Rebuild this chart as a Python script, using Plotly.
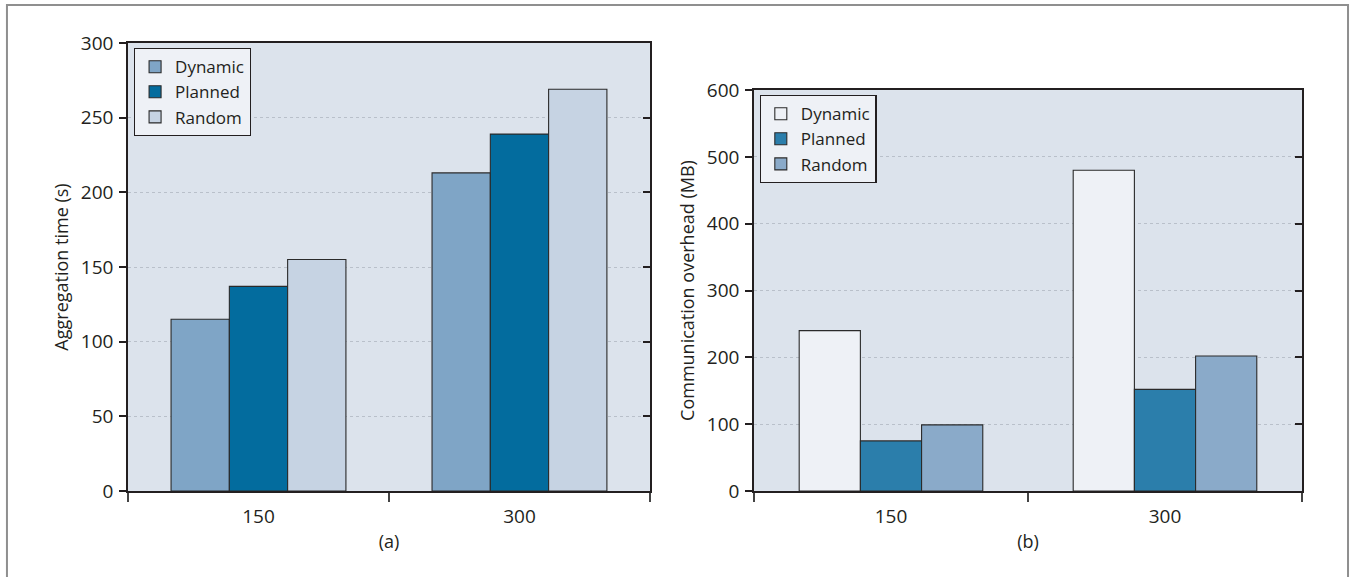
import plotly.graph_objects as go

categories = ["150", "300"]
series = ["Dynamic", "Planned", "Random"]
agg_dynamic = [115, 213]
agg_planned = [137, 239]
agg_random = [155, 269]
comm_dynamic = [240, 480]
comm_planned = [75, 152]
comm_random = [99, 202]

colors_a = ["#7fa5c6", "#036c9e", "#c6d3e3"]
colors_b = ["#eef1f6", "#2b7eab", "#8aaac9"]

TXT = "#231f20"
FONT = "Open Sans"
FS = 18
FS_TICK = 19
FS_LEG = 17

fig = go.Figure()
for name, vals, col in zip(series, [agg_dynamic, agg_planned, agg_random], colors_a):
    fig.add_trace(go.Bar(x=categories, y=vals, name=name, marker_color=col,
                         marker_line=dict(color="#2a2a2a", width=1.1),
                         xaxis="x", yaxis="y", legend="legend"))
for name, vals, col in zip(series, [comm_dynamic, comm_planned, comm_random], colors_b):
    fig.add_trace(go.Bar(x=categories, y=vals, name=name, marker_color=col,
                         marker_line=dict(color="#2a2a2a", width=1.1),
                         xaxis="x2", yaxis="y2", legend="legend2"))

axis_common = dict(showline=True, linecolor=TXT, linewidth=1.5, mirror=True,
                   tickfont=dict(family=FONT, size=FS_TICK, color=TXT))

xcommon = dict(axis_common, type="category", tickson="boundaries", ticks="outside",
               ticklen=9, tickcolor="#444", tickwidth=1.5, showgrid=False, range=[-0.5, 1.5],
               ticklabelstandoff=7)
ycommon = dict(axis_common, ticks="outside", ticklen=7, tickcolor=TXT, tickwidth=1.5,
               showgrid=True, gridcolor="#b9c0ca", griddash="dot", gridwidth=1, zeroline=False,
               ticklabelstandoff=2)

title_font = dict(family=FONT, size=FS, color=TXT)

fig.update_layout(
    width=1356, height=577,
    margin=dict(l=128, r=54, t=43, b=86),
    paper_bgcolor="white",
    plot_bgcolor="#dce3ec",
    barmode="group", bargap=0.33, bargroupgap=0,
    font=dict(family=FONT, color=TXT),
    xaxis=dict(xcommon, domain=[0, 0.4446], anchor="y",
               title=dict(text="(a)", font=title_font, standoff=8)),
    yaxis=dict(ycommon, domain=[0, 1], anchor="x", range=[0, 300], dtick=50,
               title=dict(text="Aggregation time (s)", font=title_font, standoff=8)),
    yaxis3=dict(overlaying="y", side="right", anchor="x", range=[0, 300], dtick=50,
                ticks="inside", ticklen=7, tickcolor=TXT, tickwidth=1.5,
                showticklabels=False, showgrid=False, zeroline=False, showline=False),
    xaxis2=dict(xcommon, domain=[0.5332, 1], anchor="y2",
                title=dict(text="(b)", font=title_font, standoff=8)),
    yaxis2=dict(ycommon, domain=[0, 0.895], anchor="x2", range=[0, 600], dtick=100,
                title=dict(text="Communication overhead (MB)", font=title_font, standoff=8)),
    yaxis4=dict(overlaying="y2", side="right", anchor="x2", range=[0, 600], dtick=100,
                ticks="inside", ticklen=7, tickcolor=TXT, tickwidth=1.5,
                showticklabels=False, showgrid=False, zeroline=False, showline=False),
    legend=dict(x=0.005, y=0.989, xanchor="left", yanchor="top",
                bgcolor="#eef1f6", bordercolor=TXT, borderwidth=1.2,
                font=dict(family=FONT, size=FS_LEG, color=TXT), tracegroupgap=0,
                itemwidth=30),
    legend2=dict(x=0.538, y=0.884, xanchor="left", yanchor="top",
                 bgcolor="#eef1f6", bordercolor=TXT, borderwidth=1.2,
                 font=dict(family=FONT, size=FS_LEG, color=TXT), tracegroupgap=0,
                 itemwidth=30),
    shapes=[dict(type="rect", xref="paper", yref="paper",
                 x0=-0.1031, x1=1.0392, y0=-0.25, y1=1.0848,
                 line=dict(color="#8f8f8f", width=2), layer="below")],
)

fig.add_trace(go.Scatter(x=["150"], y=[0], xaxis="x", yaxis="y3", mode="markers",
                         marker=dict(opacity=0), showlegend=False, hoverinfo="skip"))
fig.add_trace(go.Scatter(x=["150"], y=[0], xaxis="x2", yaxis="y4", mode="markers",
                         marker=dict(opacity=0), showlegend=False, hoverinfo="skip"))

fig.write_html("out.html", config={"displayModeBar": False},
               post_script="document.body.style.margin='0';")
